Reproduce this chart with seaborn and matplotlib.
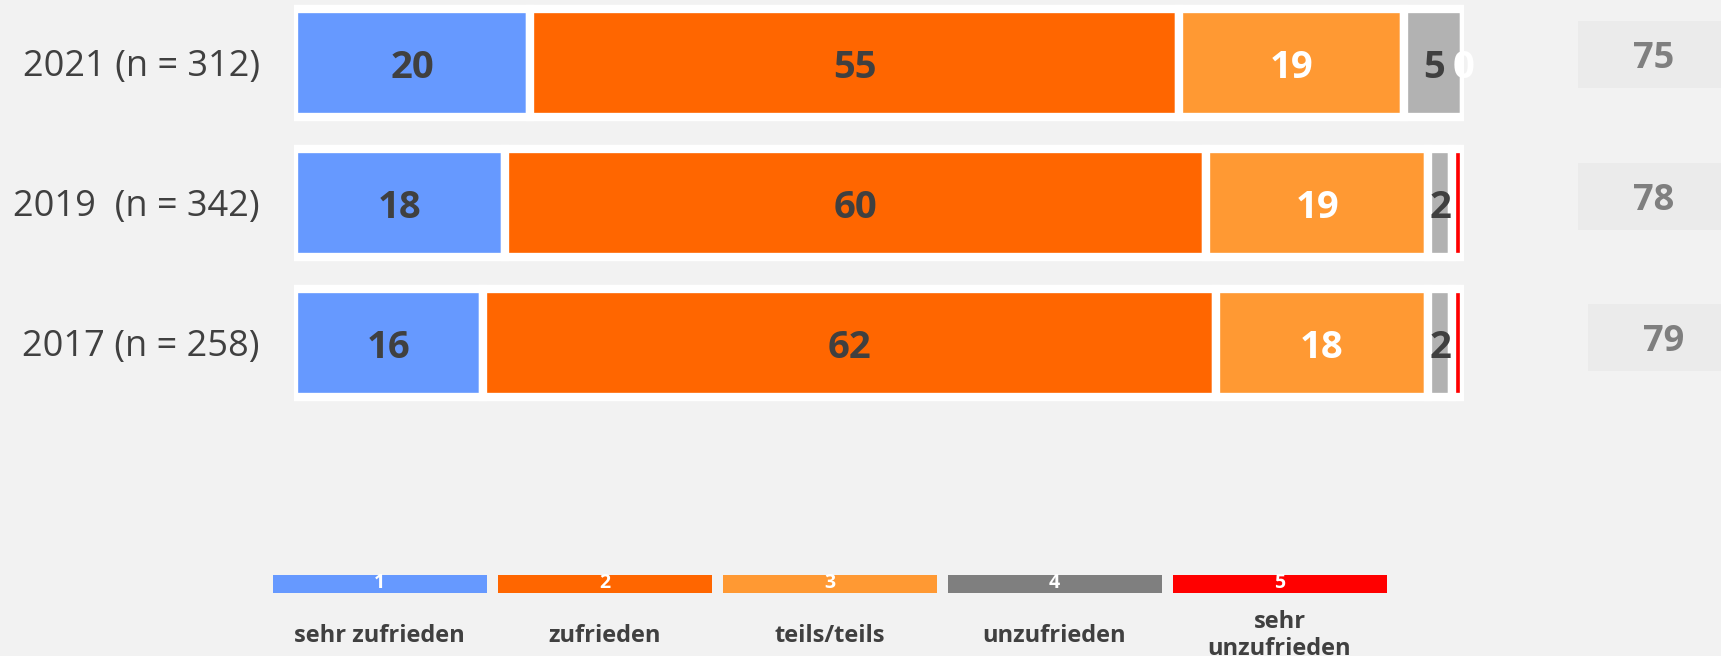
import numpy as np
import matplotlib
matplotlib.use("Agg")
import matplotlib.pyplot as plt
from matplotlib.colors import ListedColormap
import seaborn as sns

# ---------------- data ----------------
years = ["2021 (n = 312)", "2019  (n = 342)", "2017 (n = 258)"]
categories = ["sehr zufrieden", "zufrieden", "teils/teils", "unzufrieden", "sehr\nunzufrieden"]
legend_codes = ["1", "2", "3", "4", "5"]

sehr_zufrieden = [20.2, 18.0, 16.2]
zufrieden = [55.5, 60.0, 62.6]
teils_teils = [19.2, 19.0, 18.2]
unzufrieden = [5.1, 2.0, 2.0]
sehr_unzufrieden = [0.0, 1.0, 1.0]

labels_sehr_zufrieden = ["20", "18", "16"]
labels_zufrieden = ["55", "60", "62"]
labels_teils_teils = ["19", "19", "18"]
labels_unzufrieden = ["5", "2", "2"]
labels_sehr_unzufrieden = ["0", "", ""]

index_values = [75, 78, 79]

# ---------------- style ----------------
BG = "#f2f2f2"
BOX = "#ebebeb"
DARK = "#404040"
bar_colors = ["#6699ff", "#ff6600", "#ff9933", "#b2b2b2", "#ff0000"]
legend_colors = ["#6699ff", "#ff6600", "#ff9933", "#7f7f7f", "#ff0000"]
label_colors = [DARK, DARK, "white", DARK, "white"]

sns.set_style("white")
plt.rcParams["font.family"] = ["Open Sans", "DejaVu Sans"]

W, H = 1721, 656
fig = plt.figure(figsize=(W / 100, H / 100), dpi=100, facecolor=BG)

# ---------------- main stacked bars ----------------
ax = fig.add_axes([294 / W, 1 - 413 / H, 1169.5 / W, 413 / H])
ax.set_facecolor("none")

seg = np.array([sehr_zufrieden, zufrieden, teils_teils, unzufrieden, sehr_unzufrieden], dtype=float)
totals = seg.sum(axis=0)
lefts = np.vstack([np.zeros(seg.shape[1]), np.cumsum(seg, axis=0)[:-1]])

# white frame behind each row
sns.barplot(x=totals, y=years, orient="h", color="white", saturation=1,
            width=0.829, errorbar=None, linewidth=0, ax=ax)

for i in range(seg.shape[0]):
    sns.barplot(x=seg[i], y=years, orient="h", left=lefts[i], color=bar_colors[i],
                saturation=1, width=0.774, errorbar=None,
                edgecolor="white", linewidth=6, ax=ax)

label_sets = [labels_sehr_zufrieden, labels_zufrieden, labels_teils_teils,
              labels_unzufrieden, labels_sehr_unzufrieden]
for i, labs in enumerate(label_sets):
    for j, t in enumerate(labs):
        if t:
            ax.text(lefts[i][j] + seg[i][j] / 2, j, t, ha="center", va="center_baseline",
                    fontsize=27.5, fontweight="bold", color=label_colors[i])

ax.set_xlim(0, 100)
ax.set_ylim(2.5, -0.45)
ax.set_xticks([])
ax.set_xlabel("")
ax.set_ylabel("")
ax.tick_params(axis="y", length=0, pad=24.5, labelsize=26, labelcolor=DARK)
sns.despine(ax=ax, left=True, bottom=True)

# ---------------- index boxes on the right ----------------
box_layout = [(1578, 21), (1578, 163), (1588, 304)]
for (bx, by), v in zip(box_layout, index_values):
    bax = fig.add_axes([bx / W, 1 - (by + 67) / H, 152 / W, 67 / H])
    bax.set_facecolor(BOX)
    bax.set_xticks([])
    bax.set_yticks([])
    for s in bax.spines.values():
        s.set_visible(False)
    bax.text(0.5, 0.5, str(v), transform=bax.transAxes, ha="center", va="center_baseline",
             fontsize=26, fontweight="bold", color="#7f7f7f")

# ---------------- legend as heatmap ----------------
lax = fig.add_axes([267 / W, (H - 597.5) / H, 1125 / W, 29 / H])
lax.set_facecolor(BG)
codes = np.array([[int(c) for c in legend_codes]])
sns.heatmap(codes, ax=lax, cmap=ListedColormap(legend_colors), vmin=0.5, vmax=5.5,
            cbar=False, annot=np.array([legend_codes]), fmt="",
            annot_kws=dict(color="white", fontsize=14, fontweight="bold"),
            linewidths=6.5, linecolor=BG, xticklabels=categories, yticklabels=False)
lax.tick_params(axis="x", length=0, pad=27.5, labelsize=17, labelcolor=DARK)
for t in lax.get_xticklabels():
    t.set_fontweight("bold")
    t.set_verticalalignment("center")
    t.set_rotation(0)

fig.savefig("out.png", dpi=100, facecolor=BG)
